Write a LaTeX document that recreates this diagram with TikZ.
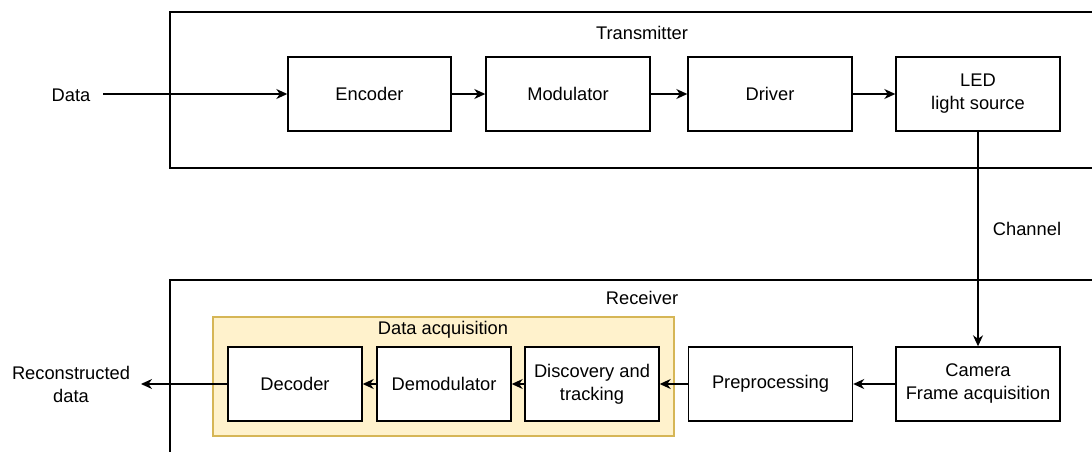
\documentclass[tikz,border=0pt]{standalone}
\usepackage{fontspec}
\setmainfont{Liberation Sans}
\usetikzlibrary{arrows.meta}
\begin{document}
\begin{tikzpicture}[x=1pt,y=-1pt,
  lw/.style={line width=1.4pt},
  blk/.style={draw, lw, fill=white, minimum height=74pt, inner sep=0pt, align=center, font=\fontsize{18.3}{23}\selectfont},
  lbl/.style={inner sep=0pt, align=center, font=\fontsize{18.3}{23}\selectfont},
  arr/.style={lw, -{Stealth[length=11pt,width=10pt,inset=3.5pt]}},
  frame/.style={draw, lw},
]
\useasboundingbox (0,0) rectangle (1092,452);
\clip (0,0) rectangle (1092,452);
% frames
\draw[frame] (1100,12) -- (170,12) -- (170,168) -- (1100,168);
\draw[frame] (1100,280) -- (170,280) -- (170,460);
\node[lbl] (tx) at (642,33) {Transmitter};
\node[lbl] (rx) at (642,298) {Receiver};
% data acquisition
\draw[draw={rgb,255:red,214;green,182;blue,86}, fill={rgb,255:red,255;green,242;blue,204}, line width=1.4pt] (213,317) rectangle (674,436);
\node[lbl] (daq) at (443,330) {Data acquisition};
% transmitter blocks
\node[blk, minimum width=163pt] (enc) at (369.5,94) {Encoder};
\node[blk, minimum width=164pt] (mod) at (568,94) {Modulator};
\node[blk, minimum width=164pt] (drv) at (770,94) {Driver};
\node[blk, minimum width=164pt] (led) at (978,94) {LED\\light source};
% receiver blocks
\node[blk, minimum width=164pt] (cam) at (978,384) {Camera\\Frame acquisition};
\node[blk, minimum width=164pt] (pre) at (770.5,384) {Preprocessing};
\node[blk, minimum width=134pt] (dis) at (592,384) {Discovery and\\tracking};
\node[blk, minimum width=134pt] (dem) at (444,384) {Demodulator};
\node[blk, minimum width=134pt] (dec) at (295,384) {Decoder};
% labels
\node[lbl] (data) at (71,95) {Data};
\coordinate (dstart) at (103,94);
\node[lbl] (rec) at (71,384) {Reconstructed\\data};
\coordinate (rend) at (141,384);
\node[lbl] (chan) at (1027,229) {Channel};
% arrows
\draw[arr] (dstart) -- (enc);
\draw[arr] (enc) -- (mod);
\draw[arr] (mod) -- (drv);
\draw[arr] (drv) -- (led);
\draw[arr] (led) -- (cam);
\draw[arr] (cam) -- (pre);
\draw[arr] (pre) -- (dis);
\draw[arr] (dis) -- (dem);
\draw[arr] (dem) -- (dec);
\draw[arr] (dec) -- (rend);
\end{tikzpicture}
\end{document}
